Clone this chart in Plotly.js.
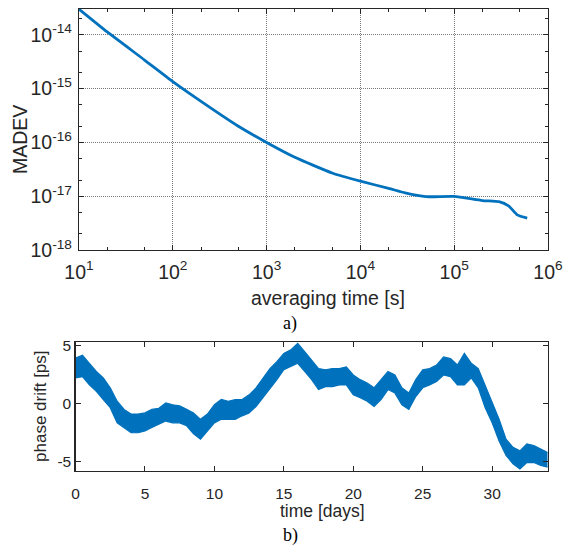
<!DOCTYPE html>
<html>
<head>
<meta charset="utf-8">
<script src="https://cdn.plot.ly/plotly-3.0.1.min.js"></script>
<style>html,body{margin:0;padding:0;background:#fff;}#chart{width:576px;height:546px;}</style>
</head>
<body>
<div id="chart"></div>
<script>
// Panel a) MADEV vs averaging time
const tau = [10, 20, 50, 100, 200, 500, 1000, 2000, 5000, 1e4, 2e4, 3e4, 5e4, 1e5, 2e5, 3e5, 3.8e5, 4.7e5, 6e5];
const madev = [3.0e-14, 1.13e-14, 3.4e-15, 1.35e-15, 5.8e-16, 2.0e-16, 1.0e-16, 5.3e-17, 2.7e-17, 1.9e-17, 1.4e-17, 1.15e-17, 9.8e-18, 9.9e-18, 8.3e-18, 7.9e-18, 6.6e-18, 4.5e-18, 3.9e-18];
const xTickVals = [10, 100, 1000, 1e4, 1e5, 1e6];
const xTickText = ['10<sup>1</sup>', '10<sup>2</sup>', '10<sup>3</sup>', '10<sup>4</sup>', '10<sup>5</sup>', '10<sup>6</sup>'];
const yTickVals = [1e-18, 1e-17, 1e-16, 1e-15, 1e-14];
const yTickText = ['10<sup>-18</sup>', '10<sup>-17</sup>', '10<sup>-16</sup>', '10<sup>-15</sup>', '10<sup>-14</sup>'];

// Panel b) phase drift band (upper / lower envelope read from the plot)
const days = [0, 0.5, 1, 1.5, 2, 2.5, 3, 3.5, 4, 4.5, 5, 5.5, 6, 6.5, 7, 7.5, 8, 8.5, 9, 9.5, 10, 10.5, 11, 11.5, 12, 12.5, 13, 13.5, 14, 14.5, 15, 15.5, 16, 16.5, 17, 17.5, 18, 18.5, 19, 19.5, 20, 20.5, 21, 21.5, 22, 22.5, 23, 23.5, 24, 24.5, 25, 25.5, 26, 26.5, 27, 27.5, 28, 28.5, 29, 29.5, 30, 30.5, 31, 31.5, 32, 32.5, 33, 33.5, 34];
const driftUpper = [3.9, 4.15, 3.45, 2.75, 2.2, 1.35, 0.2, -0.5, -0.9, -0.9, -0.8, -0.5, -0.4, 0.05, -0.1, -0.2, -0.5, -0.8, -1.35, -0.9, -0.1, 0.35, 0.2, 0.35, 0.35, 0.75, 1.35, 2.2, 3.0, 3.6, 4.3, 4.6, 5.15, 4.45, 3.75, 3.0, 2.9, 3.0, 3.0, 3.15, 2.45, 2.05, 1.75, 1.35, 2.05, 2.75, 2.45, 1.35, 0.9, 2.05, 2.9, 3.0, 3.3, 4.0, 3.85, 3.3, 4.3, 3.45, 3.0, 1.6, 0.05, -1.35, -3.05, -3.75, -4.05, -3.45, -3.6, -3.9, -4.2];
const driftLower = [2.2, 2.3, 1.6, 1.05, 0.35, -0.35, -1.65, -2.05, -2.5, -2.5, -2.35, -2.05, -1.8, -1.5, -1.65, -1.65, -1.9, -2.6, -3.05, -2.35, -1.65, -1.35, -1.35, -1.35, -1.05, -0.8, -0.25, 0.5, 1.35, 2.05, 2.9, 3.15, 3.45, 2.75, 2.05, 1.2, 1.45, 1.45, 1.6, 1.6, 0.75, 0.5, 0.2, -0.25, 0.35, 1.2, 0.9, -0.1, -0.5, 0.6, 1.35, 1.6, 1.9, 2.45, 2.3, 1.6, 1.6, 2.2, 1.35, -0.35, -1.65, -3.2, -4.45, -5.15, -5.6, -5.05, -5.05, -5.3, -5.45];
const dayTicks = [0, 5, 10, 15, 20, 25, 30];
const driftTicks = [-5, 0, 5];
const driftTickText = ['-5', '0', '5'];

const blue = '#0072BD';
const axCol = '#262626';
const sans = 'Liberation Sans';
const serif = 'Liberation Serif';

const traces = [
  {x: tau, y: madev, type: 'scatter', mode: 'lines', line: {color: blue, width: 2.8, shape: 'spline', smoothing: 0.5}, xaxis: 'x', yaxis: 'y', hoverinfo: 'skip'},
  {x: days, y: driftLower, type: 'scatter', mode: 'lines', line: {color: blue, width: 1.2}, xaxis: 'x2', yaxis: 'y2', hoverinfo: 'skip'},
  {x: days, y: driftUpper, type: 'scatter', mode: 'lines', line: {color: blue, width: 1.2}, fill: 'tonexty', fillcolor: blue, xaxis: 'x2', yaxis: 'y2', hoverinfo: 'skip'}
];

const layout = {
  width: 576, height: 546,
  margin: {l: 0, r: 0, t: 0, b: 0},
  paper_bgcolor: '#fff', plot_bgcolor: '#fff',
  showlegend: false,
  font: {family: sans, color: axCol},
  xaxis: {
    domain: [79/576, 548/576], anchor: 'y', type: 'log', range: [1, 6],
    tickvals: xTickVals, ticktext: xTickText,
    ticks: 'inside', ticklen: 5, tickcolor: axCol, mirror: 'ticks', ticklabelstandoff: 4,
    minor: {ticks: 'inside', ticklen: 3, tickcolor: axCol, showgrid: false, dtick: 'D2'},
    showline: true, linecolor: axCol, linewidth: 1.2,
    showgrid: true, gridcolor: '#7a7a7a', griddash: '1px,1px', gridwidth: 1,
    zeroline: false,
    tickfont: {size: 19.5, family: sans, color: axCol}
  },
  yaxis: {
    domain: [1-250/546, 1-9/546], anchor: 'x', type: 'log', range: [-18, -13.52],
    tickvals: yTickVals, ticktext: yTickText,
    ticks: 'inside', ticklen: 5, tickcolor: axCol, mirror: 'ticks', ticklabelstandoff: 2,
    minor: {ticks: 'inside', ticklen: 3, tickcolor: axCol, showgrid: false, dtick: 'D2'},
    showline: true, linecolor: axCol, linewidth: 1.2,
    showgrid: true, gridcolor: '#7a7a7a', griddash: '1px,1px', gridwidth: 1,
    zeroline: false,
    tickfont: {size: 19.5, family: sans, color: axCol}
  },
  xaxis2: {
    domain: [75.5/576, 547.7/576], anchor: 'y2', range: [0, 34],
    tickvals: dayTicks,
    ticks: 'inside', ticklen: 5, tickcolor: axCol, mirror: 'ticks', ticklabelstandoff: 8,
    showline: true, linecolor: axCol, linewidth: 1.2,
    showgrid: false, zeroline: false,
    tickfont: {size: 15.5, family: sans, color: axCol}
  },
  yaxis2: {
    domain: [1-470.7/546, 1-341.7/546], anchor: 'x2', range: [-5.75, 5.3],
    tickvals: driftTicks, ticktext: driftTickText,
    ticks: 'inside', ticklen: 5, tickcolor: axCol, mirror: 'ticks',
    showline: true, linecolor: axCol, linewidth: 1.2,
    showgrid: false, zeroline: false,
    tickfont: {size: 15.5, family: sans, color: axCol},
    title: {text: 'phase drift [ps]', font: {size: 17, family: sans, color: axCol}, standoff: 6}
  },
  annotations: [
    {text: 'MADEV', xref: 'paper', yref: 'paper', x: 20/576, y: 1-140/546, textangle: -90, xanchor: 'center', yanchor: 'middle', showarrow: false, font: {family: sans, size: 19.5, color: axCol}},
    {text: 'averaging time [s]', xref: 'paper', yref: 'paper', x: 328/576, y: 1-298/546, xanchor: 'center', yanchor: 'middle', showarrow: false, font: {family: sans, size: 19.5, color: axCol}},
    {text: 'time [days]', xref: 'paper', yref: 'paper', x: 322/576, y: 1-511/546, xanchor: 'center', yanchor: 'middle', showarrow: false, font: {family: sans, size: 17.5, color: axCol}},
    {text: 'a)', xref: 'paper', yref: 'paper', x: 290/576, y: 1-323/546, xanchor: 'center', yanchor: 'middle', showarrow: false, font: {family: serif, size: 18, color: '#000'}},
    {text: 'b)', xref: 'paper', yref: 'paper', x: 290/576, y: 1-535/546, xanchor: 'center', yanchor: 'middle', showarrow: false, font: {family: serif, size: 18, color: '#000'}}
  ]
};

Plotly.newPlot('chart', traces, layout, {staticPlot: true, displayModeBar: false});
</script>
</body>
</html>
